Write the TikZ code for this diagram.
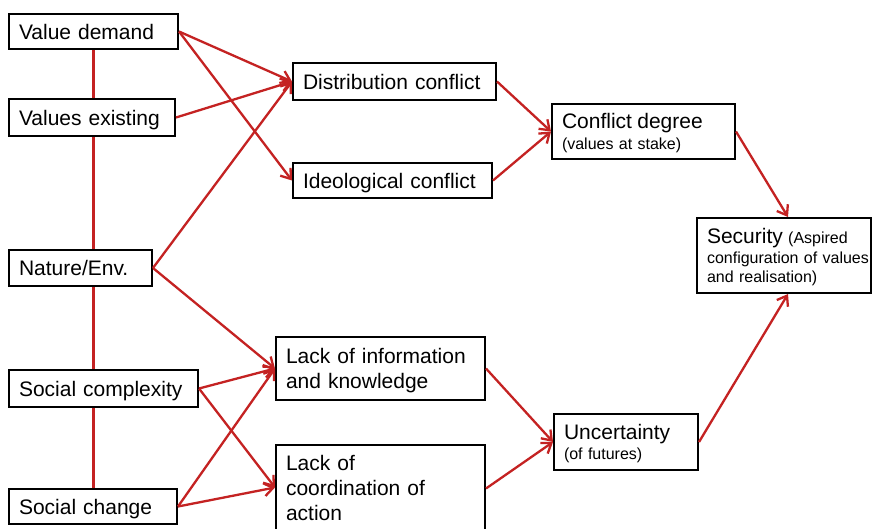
\documentclass[tikz,border=0pt]{standalone}
\usepackage{fontspec}
\setmainfont{Liberation Sans}
\usetikzlibrary{arrows.meta,backgrounds}
\definecolor{linkred}{RGB}{196,34,34}
\tikzset{
  box/.style={draw=black, line width=2pt, fill=white, anchor=north west,
    inner xsep=10pt, inner ysep=2pt, align=left, text depth=0pt,
    font=\fontsize{21}{25}\selectfont},
  notebox/.style={box, font=\fontsize{16}{20}\selectfont},
  link/.style={draw=linkred, line width=2.3pt, -{Straight Barb[length=9pt,width=13pt]}},
  spine/.style={draw=linkred, line width=2.3pt},
}
\newcommand{\headword}[1]{{\fontsize{21}{25}\selectfont #1}}
\begin{document}
\begin{tikzpicture}[x=1pt,y=-1pt]
  \useasboundingbox (0,0) rectangle (872,529);
  \clip (0,0) rectangle (872,529);

  % drivers (left column)
  \node[box, text width=149pt, minimum height=35pt] (vd)  at (8,13)  {Value demand};
  \node[box, text width=146pt, minimum height=37pt] (ve)  at (8,98)  {Values existing};
  \node[box, text width=123pt, minimum height=36pt] (ne)  at (8,249) {Nature/Env.};
  \node[box, text width=169pt, minimum height=37pt] (scx) at (8,369) {Social complexity};
  \node[box, text width=148pt, minimum height=35pt] (sch) at (8,488) {Social change};

  % intermediate factors
  \node[box, text width=183pt, minimum height=37pt] (dc) at (292,62)  {Distribution conflict};
  \node[box, text width=179pt, minimum height=35pt] (ic) at (292,162) {Ideological conflict};
  \node[box, text width=189pt, minimum height=63pt, text depth=25pt] (li) at (275,336)
    {Lack of information\\and knowledge};
  % this box runs past the lower edge of the page
  \node[box, text width=189pt, minimum height=95pt, text depth=60pt] (lc) at (275,444)
    {Lack of\\coordination of\\action};
  \coordinate (lcin)  at ([yshift=5pt]lc.west);
  \coordinate (lcout) at ([yshift=4pt]lc.east);

  % outcomes
  \node[notebox, font=\fontsize{16}{21}\selectfont, text width=163pt, minimum height=55pt,
        text depth=21pt] (cd) at (551,103)
    {\headword{Conflict degree}\\(values at stake)};
  \node[notebox, text width=124pt, minimum height=56pt, text depth=20pt] (un) at (553,413)
    {\headword{Uncertainty}\\(of futures)};
  \node[notebox, font=\fontsize{16}{19.5}\selectfont, text width=154pt, minimum height=75pt,
        text depth=39pt] (sec) at (696,217)
    {\mbox{\headword{Security} (Aspired}\\\mbox{configuration of values}\\\mbox{and realisation)}};

  \begin{scope}[on background layer]
    \fill[white] (0,0) rectangle (872,529);
    \draw[spine] (vd.south) -- (vd.south |- sch.north);
  \end{scope}

  % influences
  \draw[link] (vd.east)  -- (dc.west);
  \draw[link] (vd.east)  -- (ic.west);
  \draw[link] (ve.east)  -- (dc.west);
  \draw[link] (ne.east)  -- (dc.west);
  \draw[link] (ne.east)  -- (li.west);
  \draw[link] (scx.east) -- (li.west);
  \draw[link] (scx.east) -- (lcin);
  \draw[link] (sch.east) -- (li.west);
  \draw[link] (sch.east) -- (lcin);
  \draw[link] (dc.east)  -- (cd.west);
  \draw[link] (ic.east)  -- (cd.west);
  \draw[link] (li.east)  -- (un.west);
  \draw[link] (lcout)    -- (un.west);
  \draw[link] (cd.east)  -- ([xshift=4pt]sec.north);
  \draw[link] (un.east)  -- ([xshift=4pt]sec.south);
\end{tikzpicture}
\end{document}
